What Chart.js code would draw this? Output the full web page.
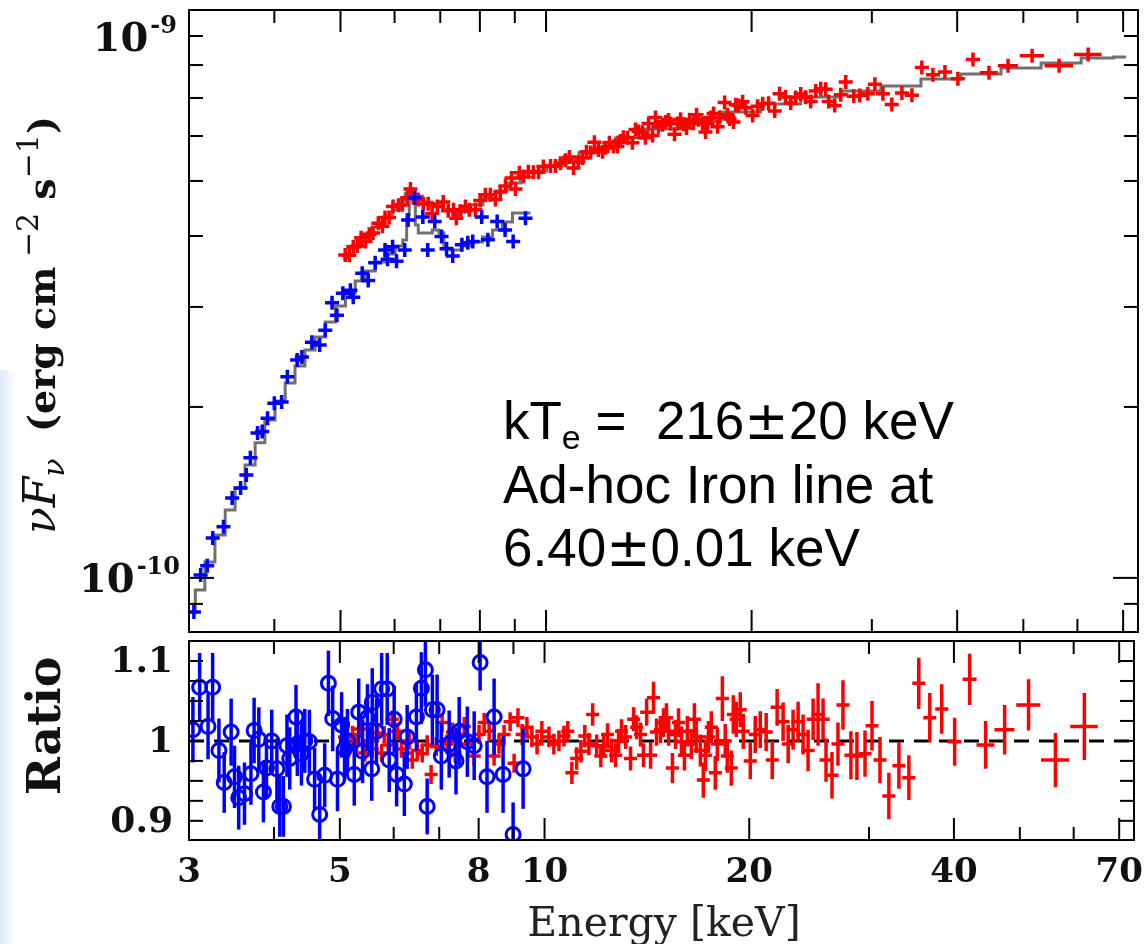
<!DOCTYPE html>
<html>
<head>
<meta charset="utf-8">
<script src="https://cdn.jsdelivr.net/npm/chart.js@4.4.1/dist/chart.umd.min.js"></script>
<style>
  body { margin: 0; background: #fff; width: 1144px; height: 944px; overflow: hidden; position: relative; }
  #edge { position: absolute; left: 0; top: 370px; width: 16px; height: 574px; background: linear-gradient(to right, #dcebfa, #fff); }
  #top { position: absolute; left: 0; top: 0; }
  #bot { position: absolute; left: 0; top: 631px; }
</style>
</head>
<body>
<div id="edge"></div>
<canvas id="top" width="1144" height="633"></canvas>
<canvas id="bot" width="1144" height="313"></canvas>
<script>
// energies in keV, fluxes in units of 1e-10 erg cm^-2 s^-1
const blueE = [3.05, 3.12, 3.19, 3.25, 3.37, 3.47, 3.57, 3.64, 3.69, 3.78,
  3.84, 3.91, 4.00, 4.10, 4.18, 4.32, 4.39, 4.54, 4.66, 4.75,
  4.86, 4.94, 5.04, 5.17, 5.22, 5.38, 5.49, 5.62, 5.81, 5.86,
  5.96, 6.04, 6.21, 6.28, 6.42, 6.60, 6.71, 6.87, 7.03, 7.15,
  7.30, 7.53, 7.68, 7.81, 8.05, 8.22, 8.48, 8.71, 8.95, 9.33];
const blueFlux = [0.871, 1.012, 1.05, 1.176, 1.23, 1.383, 1.44, 1.518, 1.627, 1.80,
  1.81, 1.91, 2.03, 2.04, 2.26, 2.42, 2.45, 2.60, 2.57, 2.73,
  3.05, 2.90, 3.17, 3.21, 3.12, 3.44, 3.34, 3.59, 3.78, 3.64,
  3.83, 3.61, 3.78, 4.27, 4.67, 4.32, 3.78, 4.24, 3.99, 3.80,
  3.69, 3.86, 3.89, 3.91, 4.32, 3.94, 4.24, 4.10, 3.91, 4.30];

const redE = [5.08, 5.15, 5.22, 5.29, 5.36, 5.44, 5.51, 5.58, 5.68, 5.76,
  5.81, 5.89, 5.97, 6.08, 6.16, 6.26, 6.33, 6.39, 6.50, 6.61,
  6.72, 6.81, 6.93, 7.07, 7.19, 7.32, 7.39, 7.49, 7.62, 7.72,
  7.88, 8.01, 8.15, 8.29, 8.43, 8.57, 8.72, 8.90, 9.02, 9.14,
  9.27, 9.42, 9.58, 9.75, 9.91, 10.15, 10.32, 10.50, 10.68, 10.82,
  10.97, 11.15, 11.31, 11.46, 11.62, 11.77, 11.93, 12.10, 12.22, 12.38,
  12.55, 12.72, 12.85, 12.98, 13.16, 13.38, 13.52, 13.66, 13.84, 13.98,
  14.13, 14.32, 14.46, 14.61, 14.81, 14.96, 15.11, 15.22, 15.42, 15.58,
  15.74, 15.90, 16.06, 16.22, 16.44, 16.61, 16.72, 16.95, 17.12, 17.24,
  17.42, 17.59, 17.83, 17.95, 18.26, 18.44, 18.57, 18.82, 18.95, 19.14,
  19.40, 19.60, 20.07, 20.41, 20.76, 21.18, 21.62, 21.98, 22.43, 22.82,
  23.20, 23.60, 24.00, 24.41, 24.83, 25.25, 25.68, 25.94, 26.47, 27.01,
  27.47, 28.22, 28.80, 29.60, 30.31, 31.14, 32.09, 33.20, 34.34, 35.51,
  36.86, 38.38, 40.10, 42.19, 44.53, 47.49, 51.50, 56.41, 62.21];
const redXErr = [0.06, 0.06, 0.06, 0.06, 0.06, 0.06, 0.06, 0.06, 0.06, 0.06,
  0.06, 0.06, 0.06, 0.06, 0.06, 0.06, 0.06, 0.06, 0.06, 0.06,
  0.06, 0.06, 0.06, 0.06, 0.06, 0.06, 0.06, 0.06, 0.06, 0.06,
  0.06, 0.06, 0.06, 0.06, 0.06, 0.06, 0.06, 0.06, 0.06, 0.06,
  0.08, 0.08, 0.08, 0.08, 0.08, 0.08, 0.08, 0.08, 0.08, 0.08,
  0.10, 0.10, 0.10, 0.10, 0.10, 0.10, 0.10, 0.10, 0.10, 0.10,
  0.12, 0.12, 0.12, 0.12, 0.12, 0.12, 0.12, 0.12, 0.12, 0.12,
  0.14, 0.14, 0.14, 0.14, 0.14, 0.14, 0.14, 0.14, 0.14, 0.14,
  0.16, 0.16, 0.16, 0.16, 0.16, 0.16, 0.16, 0.16, 0.16, 0.16,
  0.18, 0.18, 0.18, 0.18, 0.18, 0.18, 0.18, 0.18, 0.18, 0.18,
  0.25, 0.25, 0.25, 0.25, 0.25, 0.25, 0.25, 0.25, 0.25, 0.25,
  0.30, 0.30, 0.30, 0.30, 0.30, 0.30, 0.30, 0.30, 0.30, 0.30,
  0.50, 0.50, 0.50, 0.55, 0.55, 0.60, 0.60, 0.65, 0.70, 0.70,
  0.70, 0.75, 0.95, 1.00, 1.35, 1.60, 2.10, 2.70, 2.90];
const redFlux = [3.705, 3.70, 3.83, 3.84, 3.97, 3.91, 4.03, 4.05, 4.21, 4.16,
  4.31, 4.31, 4.51, 4.53, 4.54, 4.67, 4.84, 4.67, 4.64, 4.56,
  4.56, 4.38, 4.51, 4.59, 4.43, 4.45, 4.30, 4.42, 4.51, 4.45,
  4.45, 4.62, 4.73, 4.73, 4.64, 4.78, 4.90, 5.06, 4.84, 5.17,
  5.09, 5.19, 5.18, 5.18, 5.30, 5.31, 5.31, 5.37, 5.44, 5.51,
  5.27, 5.40, 5.49, 5.63, 5.61, 5.85, 5.67, 5.63, 5.72, 5.84,
  5.75, 5.75, 5.88, 5.97, 5.96, 5.84, 6.16, 6.11, 6.09, 5.96,
  6.31, 6.01, 6.47, 6.23, 6.28, 6.35, 6.40, 6.31, 6.04, 6.31,
  6.42, 6.29, 6.20, 6.41, 6.32, 6.54, 6.41, 6.31, 6.10, 6.31,
  6.47, 6.57, 6.23, 6.47, 6.87, 6.54, 6.43, 6.35, 6.81, 6.79,
  6.89, 6.73, 6.52, 6.77, 6.84, 6.85, 6.64, 7.12, 7.03, 6.86,
  7.01, 7.11, 7.02, 6.90, 7.20, 7.27, 7.25, 6.90, 6.79, 7.09,
  7.47, 7.05, 7.07, 7.12, 7.40, 7.12, 6.82, 7.14, 7.08, 7.92,
  7.69, 7.78, 7.57, 8.18, 7.75, 7.98, 8.31, 7.98, 8.35];

const modelBlueE = [3.02, 3.11, 3.22, 3.33, 3.45, 3.56, 3.69, 3.81, 3.94, 4.08,
  4.22, 4.36, 4.51, 4.67, 4.83, 5.00, 5.17, 5.34, 5.53, 5.72,
  5.91, 6.12, 6.22, 6.28, 6.33, 6.41, 6.46, 6.54, 6.72, 6.91,
  7.03, 7.14, 7.39, 7.64, 7.93, 8.21, 8.49, 8.78, 9.08, 9.49];
const modelBlueF = [0.871, 0.952, 1.067, 1.190, 1.317, 1.440, 1.581, 1.729, 1.897, 2.049,
  2.204, 2.362, 2.520, 2.657, 2.823, 3.012, 3.175, 3.333, 3.471, 3.600,
  3.719, 3.842, 3.936, 4.357, 4.706, 4.706, 4.184, 4.050, 4.050, 4.100,
  4.050, 3.811, 3.779, 3.842, 3.905, 3.985, 4.100, 4.235, 4.392, 4.392];
const modelRedE = [5.05, 5.25, 5.47, 5.66, 5.85, 6.06, 6.18, 6.26, 6.33, 6.39,
  6.48, 6.70, 6.93, 7.19, 7.41, 7.62, 7.88, 8.29, 8.57, 8.96,
  9.39, 9.81, 10.25, 10.86, 11.50, 12.01, 13.29, 14.71, 16.84, 19.27,
  22.06, 25.25, 28.90, 33.09, 37.87, 43.34, 49.62, 56.80, 65.0, 70.7];
const modelRedF = [3.659, 3.826, 4.001, 4.150, 4.304, 4.447, 4.610, 4.745, 4.842, 4.783,
  4.706, 4.592, 4.538, 4.447, 4.357, 4.428, 4.538, 4.667, 4.802, 4.960,
  5.082, 5.207, 5.314, 5.448, 5.605, 5.715, 5.952, 6.173, 6.377, 6.614,
  6.833, 7.030, 7.203, 7.350, 7.561, 7.716, 7.906, 8.068, 8.234, 8.267];

// ratio panel
const blueRatioE = [3.04, 3.11, 3.20, 3.25, 3.32, 3.38, 3.46, 3.50, 3.55, 3.62,
  3.70, 3.74, 3.80, 3.86, 3.90, 3.97, 4.04, 4.08, 4.13, 4.18,
  4.22, 4.31, 4.33, 4.39, 4.44, 4.51, 4.59, 4.67, 4.75, 4.81,
  4.88, 4.96, 5.03, 5.08, 5.13, 5.25, 5.33, 5.40, 5.49, 5.57,
  5.58, 5.66, 5.76, 5.87, 5.91, 6.01, 6.06, 6.22, 6.28, 6.48,
  6.59, 6.68, 6.72, 6.84, 6.95, 7.05, 7.24, 7.41, 7.49, 7.70,
  7.88, 8.04, 8.23, 8.43, 8.69, 8.99, 9.30];
const blueRatio = [1.014, 1.067, 1.018, 1.067, 0.988, 0.948, 1.011, 0.955, 0.929, 0.934,
  0.959, 1.013, 1.002, 0.936, 0.966, 1.000, 0.965, 0.918, 0.918, 0.994,
  0.978, 1.030, 0.996, 0.984, 1.000, 0.999, 0.952, 0.908, 0.957, 1.072,
  1.028, 0.952, 1.020, 0.990, 1.000, 0.958, 1.036, 0.987, 1.029, 0.965,
  1.048, 1.012, 1.065, 1.065, 0.976, 1.027, 0.958, 0.946, 1.005, 1.030,
  1.066, 1.089, 0.918, 1.039, 1.039, 0.981, 0.996, 0.975, 1.012, 0.999,
  0.994, 1.098, 0.955, 1.030, 0.958, 0.883, 0.965];
const blueRatioErr = [0.041, 0.043, 0.041, 0.043, 0.040, 0.038, 0.042, 0.039, 0.040, 0.039,
  0.039, 0.041, 0.040, 0.038, 0.038, 0.039, 0.038, 0.038, 0.038, 0.039,
  0.039, 0.040, 0.040, 0.040, 0.040, 0.040, 0.039, 0.037, 0.040, 0.041,
  0.041, 0.040, 0.041, 0.040, 0.040, 0.039, 0.042, 0.040, 0.042, 0.040,
  0.043, 0.041, 0.045, 0.045, 0.040, 0.042, 0.040, 0.040, 0.040, 0.042,
  0.045, 0.046, 0.035, 0.044, 0.044, 0.042, 0.042, 0.042, 0.043, 0.044,
  0.043, 0.035, 0.045, 0.048, 0.048, 0.040, 0.050];
const redRatio = [1.005, 0.990, 1.008, 0.995, 1.015, 0.985, 1.000, 0.990, 1.010, 0.985,
  1.008, 0.995, 1.027, 1.012, 0.990, 0.985, 1.000, 0.976, 0.988, 0.984,
  0.995, 0.958, 0.993, 1.023, 0.996, 1.011, 0.985, 1.008, 1.018, 0.996,
  0.981, 1.008, 1.023, 1.012, 0.981, 0.996, 1.008, 1.024, 0.972, 1.029,
  1.008, 1.017, 1.005, 0.996, 1.012, 1.005, 0.996, 1.000, 1.006, 1.012,
  0.960, 0.978, 0.987, 1.006, 0.996, 1.033, 0.994, 0.981, 0.993, 1.008,
  0.988, 0.982, 1.000, 1.012, 1.005, 0.978, 1.027, 1.017, 1.008, 0.982,
  1.036, 0.982, 1.054, 1.011, 1.014, 1.023, 1.029, 1.012, 0.966, 1.008,
  1.023, 0.999, 0.982, 1.012, 0.996, 1.027, 1.005, 0.988, 0.951, 0.982,
  1.005, 1.017, 0.960, 0.996, 1.053, 1.000, 0.981, 0.966, 1.033, 1.027,
  1.039, 1.012, 0.975, 1.008, 1.014, 1.011, 0.976, 1.042, 1.024, 0.996,
  1.014, 1.024, 1.008, 0.988, 1.027, 1.033, 1.027, 0.976, 0.957, 0.996,
  1.045, 0.982, 0.981, 0.984, 1.019, 0.976, 0.931, 0.969, 0.954, 1.072,
  1.029, 1.040, 0.999, 1.077, 0.995, 1.014, 1.045, 0.976, 1.018];
const redRatioErr = [0.011, 0.011, 0.011, 0.011, 0.011, 0.011, 0.011, 0.011, 0.011, 0.011,
  0.011, 0.011, 0.011, 0.011, 0.011, 0.011, 0.011, 0.011, 0.011, 0.011,
  0.012, 0.012, 0.012, 0.012, 0.012, 0.012, 0.012, 0.012, 0.012, 0.012,
  0.012, 0.012, 0.012, 0.012, 0.012, 0.012, 0.012, 0.012, 0.012, 0.012,
  0.013, 0.013, 0.013, 0.013, 0.013, 0.013, 0.013, 0.013, 0.013, 0.013,
  0.014, 0.014, 0.014, 0.014, 0.014, 0.014, 0.014, 0.014, 0.014, 0.014,
  0.015, 0.015, 0.015, 0.015, 0.015, 0.015, 0.015, 0.015, 0.015, 0.015,
  0.017, 0.017, 0.020, 0.017, 0.017, 0.018, 0.018, 0.018, 0.019, 0.018,
  0.018, 0.019, 0.019, 0.019, 0.019, 0.020, 0.020, 0.020, 0.022, 0.020,
  0.020, 0.020, 0.021, 0.021, 0.028, 0.021, 0.021, 0.022, 0.024, 0.022,
  0.022, 0.022, 0.023, 0.023, 0.023, 0.024, 0.024, 0.023, 0.024, 0.024,
  0.025, 0.025, 0.025, 0.026, 0.026, 0.039, 0.026, 0.027, 0.029, 0.027,
  0.031, 0.030, 0.030, 0.029, 0.031, 0.029, 0.029, 0.029, 0.028, 0.032,
  0.031, 0.031, 0.030, 0.032, 0.030, 0.031, 0.032, 0.034, 0.042];

// axes
const eMin = 3, eMax = 73.6;
const fluxMin = 0.803, fluxMax = 10;
const ratioMin = 0.876, ratioMax = 1.125;
const xMajor = [3, 5, 8, 10, 20, 40, 70];
const xMinor = [4, 6, 7, 9, 30, 50, 60];
const fluxMajor = [1];
const fluxMinor = [0.9, 2, 3, 4, 5, 6, 7, 8, 9];
const ratioTicks = [0.9, 0.925, 0.95, 0.975, 1, 1.025, 1.05, 1.075, 1.1];
const ratioLabels = ['0.9', '1', '1.1'];

const RED = '#ff0000', BLUE = '#0000ff', GREY = '#707070';
const SERIF = '"DejaVu Serif", serif';
const SANS = '"Liberation Sans", Arial, sans-serif';

// error bars / crosses, drawn under each dataset's own points
const errorBars = {
  id: 'errorBars',
  beforeDatasetDraw(chart, args) {
    const ds = chart.data.datasets[args.index];
    if (!ds.bars) return;
    const { ctx, chartArea: a } = chart;
    const sx = chart.scales.x, sy = chart.scales.y;
    const m = ds.bars.min;
    ctx.save();
    ctx.beginPath();
    ctx.rect(a.left, a.top, a.right - a.left, a.bottom - a.top);
    ctx.clip();
    ctx.strokeStyle = ds.bars.color;
    ctx.lineWidth = ds.bars.width;
    ds.data.forEach(p => {
      const px = sx.getPixelForValue(p.x), py = sy.getPixelForValue(p.y);
      ctx.beginPath();
      if (ds.bars.h) {
        const l = p.xe ? sx.getPixelForValue(p.x - p.xe) : px;
        const r = p.xe ? sx.getPixelForValue(p.x + p.xe) : px;
        ctx.moveTo(Math.min(l, px - m), py);
        ctx.lineTo(Math.max(r, px + m), py);
      }
      const t = p.ye ? sy.getPixelForValue(p.y + p.ye) : py;
      const b = p.ye ? sy.getPixelForValue(p.y - p.ye) : py;
      ctx.moveTo(px, Math.min(t, py - m));
      ctx.lineTo(px, Math.max(b, py + m));
      ctx.stroke();
    });
    ctx.restore();
  }
};

// inward ticks on all four sides plus the frame
function frame(yTicks) {
  return {
    id: 'frame',
    afterDraw(chart) {
      const { ctx, chartArea: a } = chart;
      const sx = chart.scales.x, sy = chart.scales.y;
      ctx.save();
      ctx.strokeStyle = '#000';
      ctx.lineWidth = 2;
      const seg = (x1, y1, x2, y2) => { ctx.beginPath(); ctx.moveTo(x1, y1); ctx.lineTo(x2, y2); ctx.stroke(); };
      xMajor.concat(xMinor).forEach(v => {
        const x = sx.getPixelForValue(v);
        if (x <= a.left + 1 || x >= a.right - 1) return;
        const len = xMajor.includes(v) ? 22 : 13;
        seg(x, a.top, x, a.top + len);
        seg(x, a.bottom, x, a.bottom - len);
      });
      yTicks.forEach(t => {
        const y = sy.getPixelForValue(t.v);
        seg(a.left, y, a.left + t.len, y);
        seg(a.right, y, a.right - t.len, y);
      });
      ctx.strokeRect(a.left, a.top, a.right - a.left, a.bottom - a.top);
      ctx.restore();
    }
  };
}

function drawRuns(ctx, list, x, y) {
  list.forEach(r => {
    ctx.font = r.f;
    ctx.fillText(r.t, x, y + (r.dy || 0));
    x += ctx.measureText(r.t).width;
  });
}
function runsWidth(ctx, list) {
  return list.reduce((w, r) => { ctx.font = r.f; return w + ctx.measureText(r.t).width; }, 0);
}

function pow10(ctx, xRight, base, exp) {
  ctx.font = 'bold 40px ' + SERIF;
  const w1 = ctx.measureText('10').width;
  ctx.font = 'bold 24px ' + SERIF;
  const w2 = ctx.measureText(exp).width;
  const x0 = xRight - w1 - w2 - 2;
  ctx.font = 'bold 40px ' + SERIF;
  ctx.fillText('10', x0, base);
  ctx.font = 'bold 24px ' + SERIF;
  ctx.fillText(exp, x0 + w1 + 2, base - 18);
}

const topLabels = {
  id: 'topLabels',
  afterDraw(chart) {
    const ctx = chart.ctx, sy = chart.scales.y;
    ctx.save();
    ctx.fillStyle = '#111';
    ctx.textAlign = 'left';
    ctx.textBaseline = 'alphabetic';
    pow10(ctx, 177, sy.getPixelForValue(10) + 41, '-9');
    pow10(ctx, 180, sy.getPixelForValue(1) + 14, '-10');

    const title = [
      { t: 'ν', f: 'italic 44px ' + SERIF },
      { t: 'F', f: 'italic 44px ' + SERIF },
      { t: 'ν', f: 'italic 30px ' + SERIF, dy: 9 },
      { t: '  (erg cm', f: 'bold 38px ' + SERIF },
      { t: ' −2', f: '30px ' + SERIF, dy: -17 },
      { t: ' s', f: 'bold 38px ' + SERIF },
      { t: '−1', f: '30px ' + SERIF, dy: -17 },
      { t: ')', f: 'bold 38px ' + SERIF }
    ];
    ctx.save();
    ctx.translate(55, 325);
    ctx.rotate(-Math.PI / 2);
    drawRuns(ctx, title, -runsWidth(ctx, title) / 2, 0);
    ctx.restore();

    ctx.fillStyle = '#000';
    const big = '53px ' + SANS, small = '34px ' + SANS, pm = '53px "DejaVu Sans", sans-serif';
    drawRuns(ctx, [
      { t: 'kT', f: big },
      { t: 'e', f: small, dy: 10 },
      { t: ' =  216', f: big },
      { t: '±', f: pm },
      { t: '20 keV', f: big }
    ], 503, 439);
    ctx.font = big;
    ctx.fillText('Ad-hoc Iron line at', 503, 503);
    drawRuns(ctx, [
      { t: '6.40', f: big },
      { t: '±', f: pm },
      { t: '0.01 keV', f: big }
    ], 503, 566);
    ctx.restore();
  }
};

const botLabels = {
  id: 'botLabels',
  afterDraw(chart) {
    const ctx = chart.ctx, sx = chart.scales.x, sy = chart.scales.y;
    const a = chart.chartArea;
    ctx.save();
    ctx.fillStyle = '#111';
    ctx.font = 'bold 34px ' + SERIF;
    ctx.textAlign = 'center';
    ctx.textBaseline = 'alphabetic';
    xMajor.forEach(v => ctx.fillText(String(v), sx.getPixelForValue(v), a.bottom + 42));

    ctx.textAlign = 'right';
    ctx.textBaseline = 'middle';
    ctx.font = 'bold 36px ' + SERIF;
    ratioLabels.forEach(s => ctx.fillText(s, 173, sy.getPixelForValue(Number(s)) + 2));

    ctx.save();
    ctx.translate(60, sy.getPixelForValue(1) - 15);
    ctx.rotate(-Math.PI / 2);
    ctx.textAlign = 'center';
    ctx.textBaseline = 'alphabetic';
    ctx.font = 'bold 46px ' + SERIF;
    ctx.fillText('Ratio', 0, 0);
    ctx.restore();

    ctx.textAlign = 'center';
    ctx.textBaseline = 'alphabetic';
    ctx.font = '41px ' + SERIF;
    ctx.fillStyle = '#222';
    ctx.fillText('Energy [keV]', 664, a.bottom + 96);
    ctx.restore();
  }
};

function pts(xs, ys, xe, ye) {
  return xs.map((x, i) => ({ x: x, y: ys[i], xe: xe ? xe[i] : 0, ye: ye ? ye[i] : 0 }));
}

const common = {
  responsive: false,
  animation: false,
  events: [],
  plugins: { legend: { display: false }, tooltip: { enabled: false } }
};

new Chart(document.getElementById('top'), {
  type: 'scatter',
  data: {
    datasets: [
      { data: pts(blueE, blueFlux), pointRadius: 0, order: 1,
        bars: { color: BLUE, width: 3.5, min: 7, h: true } },
      { data: pts(redE, redFlux, redXErr), pointRadius: 0, order: 2,
        bars: { color: RED, width: 3.5, min: 7, h: true } },
      { data: pts(modelBlueE, modelBlueF), showLine: true, stepped: 'middle', pointRadius: 0,
        borderColor: GREY, borderWidth: 3, order: 3 },
      { data: pts(modelRedE, modelRedF), showLine: true, stepped: 'middle', pointRadius: 0,
        borderColor: GREY, borderWidth: 3, order: 4 }
    ]
  },
  options: Object.assign({}, common, {
    layout: { padding: { left: 189, right: 6, top: 10, bottom: 1 } },
    scales: {
      x: { type: 'logarithmic', min: eMin, max: eMax, display: false },
      y: { type: 'logarithmic', min: fluxMin, max: fluxMax, display: false }
    }
  }),
  plugins: [errorBars,
    frame(fluxMajor.map(v => ({ v: v, len: 25 })).concat(fluxMinor.map(v => ({ v: v, len: 14 })))),
    topLabels]
});

new Chart(document.getElementById('bot'), {
  type: 'scatter',
  data: {
    datasets: [
      { data: pts(blueRatioE, blueRatio, null, blueRatioErr), order: 1,
        pointStyle: 'circle', pointRadius: 7, pointBorderWidth: 3,
        pointBorderColor: BLUE, pointBackgroundColor: 'rgba(0,0,0,0)',
        bars: { color: BLUE, width: 3.5, min: 0, h: false } },
      { data: pts(redE, redRatio, redXErr, redRatioErr), pointRadius: 0, order: 2,
        bars: { color: RED, width: 3.5, min: 6.5, h: true } },
      { data: [{ x: eMin, y: 1 }, { x: eMax, y: 1 }], showLine: true, pointRadius: 0,
        borderColor: '#000', borderWidth: 3, borderDash: [15, 10], order: 3 }
    ]
  },
  options: Object.assign({}, common, {
    layout: { padding: { left: 189, right: 6, top: 1, bottom: 104 } },
    scales: {
      x: { type: 'logarithmic', min: eMin, max: eMax, display: false },
      y: { type: 'linear', min: ratioMin, max: ratioMax, display: false }
    }
  }),
  plugins: [errorBars, frame(ratioTicks.map(v => ({ v: v, len: 14 }))), botLabels]
});
</script>
</body>
</html>
